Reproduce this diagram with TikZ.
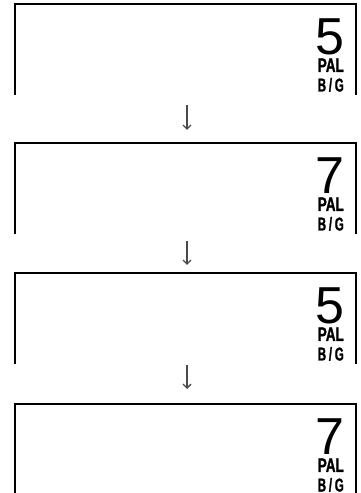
\documentclass[tikz,border=0pt]{standalone}
\usepackage{fontspec}
\setmainfont{Liberation Sans}
\newfontfamily\tagfont[FakeStretch=0.64,FakeBold=1.2]{Liberation Sans Bold}
\usetikzlibrary{arrows.meta}
\definecolor{arrgray}{HTML}{4A4A4A}
\tikzset{
  boxarea/.style={minimum width=341pt,minimum height=91pt,inner sep=0pt,outer sep=0pt},
  frame/.style={line width=1.7pt,black,line cap=butt,line join=miter},
  arr/.style={line width=1.5pt,arrgray,-{Straight Barb[length=4pt,width=8pt,line width=1.3pt]}},
  bignum/.style={inner sep=0pt,anchor=base east,font=\fontsize{52}{52}\selectfont},
  smalltag/.style={inner sep=0pt,anchor=base east,font=\fontsize{20}{20}\tagfont},
}
\begin{document}
\begin{tikzpicture}[x=1pt,y=1pt]
\useasboundingbox (0,0) rectangle (361,493);
\foreach \i/\t/\d in {1/489/5,2/350/7,3/220/5,4/89/7}{
  \node[boxarea] (b\i) at (185.5,\t-45.5) {};
  \draw[frame] (b\i.south west) |- (b\i.north east) -- (b\i.south east);
  \node[bignum] (n\i) at ([xshift=-11pt,yshift=-51pt]b\i.north east) {\d};
  \node[smalltag] (p\i) at ([xshift=-12pt,yshift=-68pt]b\i.north east) {\resizebox{26pt}{13.5pt}{PAL}};
  \node[smalltag] (g\i) at ([xshift=-12pt,yshift=-87.5pt]b\i.north east) {\resizebox{26pt}{13.5pt}{B\kern3pt/\kern3pt G}};
}
\draw[arr] ([xshift=1.5pt,yshift=-10pt]b1.south) -- ([xshift=1.5pt,yshift=13pt]b2.north);
\draw[arr] ([xshift=1.5pt,yshift=-7pt]b2.south) -- ([xshift=1.5pt,yshift=8pt]b3.north);
\draw[arr] ([xshift=1.5pt,yshift=-1pt]b3.south) -- ([xshift=1.5pt,yshift=15pt]b4.north);
\end{tikzpicture}
\end{document}
